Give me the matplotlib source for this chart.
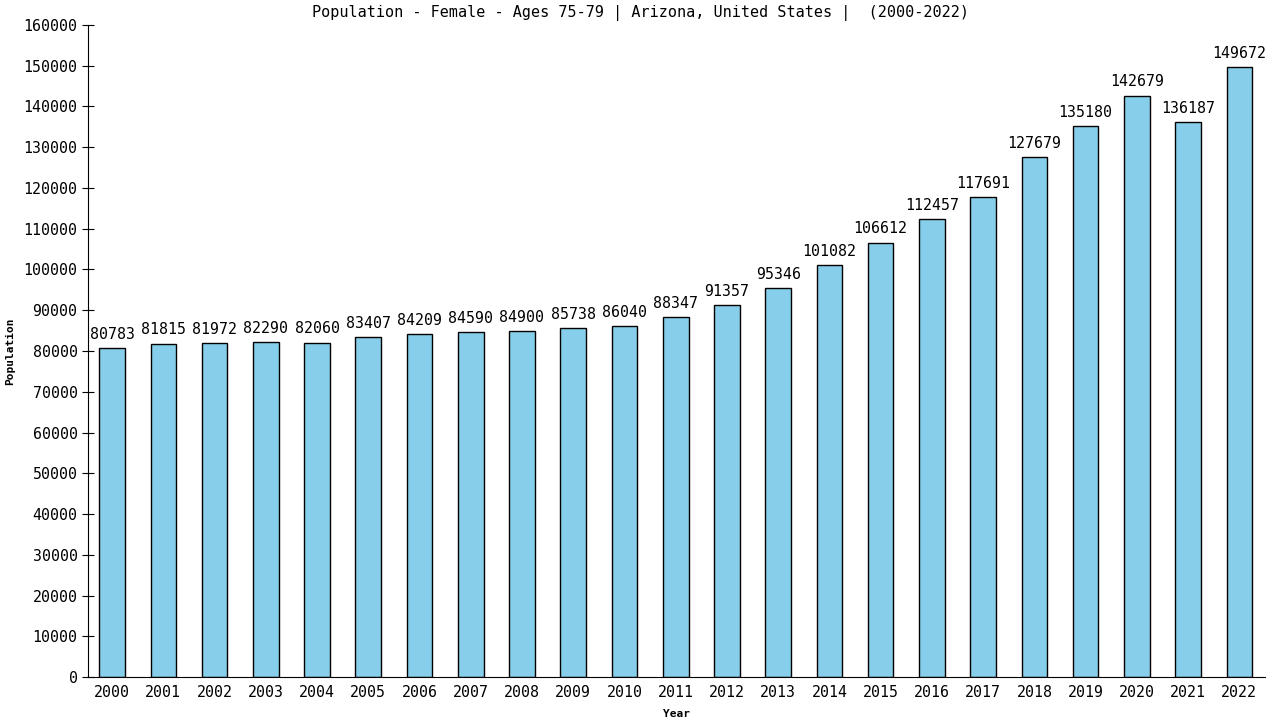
import matplotlib.pyplot as plt
import numpy as np

years = [str(y) for y in range(2000, 2023)]
population = [80783, 81815, 81972, 82290, 82060, 83407, 84209, 84590, 84900, 85738,
              86040, 88347, 91357, 95346, 101082, 106612, 112457, 117691, 127679,
              135180, 142679, 136187, 149672]

plt.rcParams['font.family'] = ['DejaVu Sans Mono']

fig = plt.figure(figsize=(12.8, 7.2), dpi=100)
ax = fig.add_axes([0.06875, 0.0597, 0.9195, 0.9056])

x = np.arange(len(years))
ax.bar(x, population, width=0.5, color='#87ceeb', edgecolor='black', linewidth=1)
for xi, v in zip(x, population):
    ax.text(xi, v + 1500, str(v), ha='center', va='bottom', fontsize=10.7)

ax.set_xlim(-0.47, 22.5)
ax.set_ylim(0, 160000)
ax.set_yticks(np.arange(0, 160001, 10000))
ax.set_xticks(x)
ax.set_xticklabels(years)
ax.tick_params(axis='both', labelsize=10.7)
ax.tick_params(axis='y', direction='inout', length=8)
ax.tick_params(axis='x', length=0, pad=6)
ax.spines['top'].set_visible(False)
ax.spines['right'].set_visible(False)

ax.set_xlabel('Year', fontsize=8, fontweight='bold', labelpad=6)
ax.set_ylabel('Population', fontsize=8, fontweight='bold', labelpad=6)
fig.text(0.5, 0.982, 'Population - Female - Ages 75-79 | Arizona, United States |  (2000-2022)',
         ha='center', va='center', fontsize=10.9)

plt.savefig('out.png')
